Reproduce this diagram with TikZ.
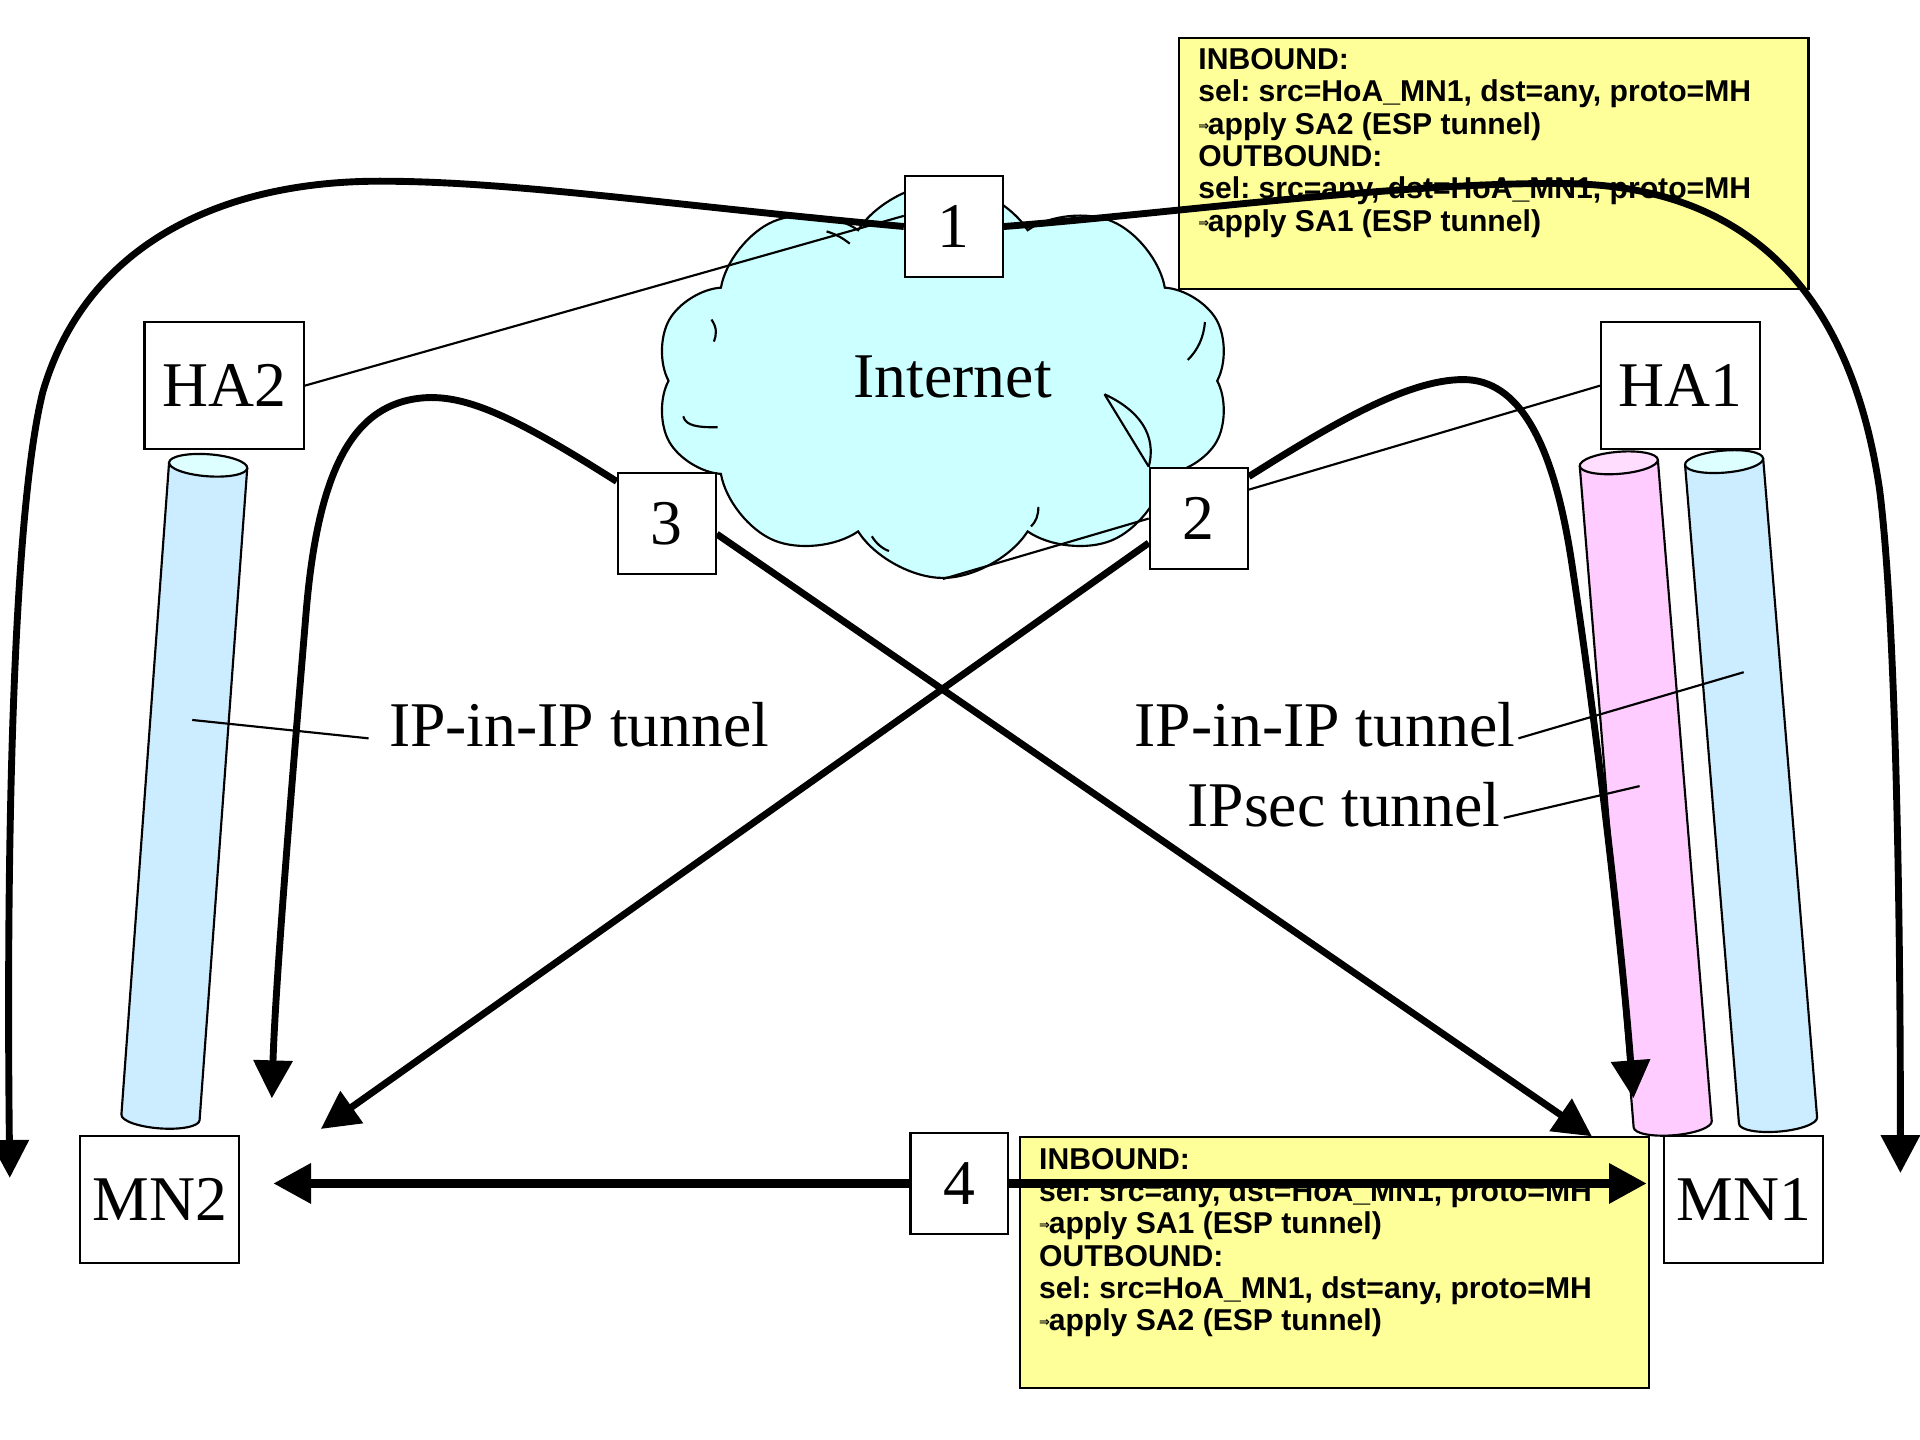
\documentclass[tikz,border=0pt]{standalone}
\usepackage{fontspec}
\setmainfont{Liberation Serif}
\newfontfamily\notefont{Liberation Sans}
\newfontfamily\symbolfont{DejaVu Sans}
\usetikzlibrary{shapes.symbols,arrows.meta,positioning,calc}
\frenchspacing

\definecolor{cloudcyan}{RGB}{204,255,255}
\definecolor{notepaper}{RGB}{255,255,153}
\definecolor{tubeblue}{RGB}{204,236,255}
\definecolor{tubeblueend}{RGB}{221,255,255}
\definecolor{tubepink}{RGB}{255,204,255}
\definecolor{tubepinkend}{RGB}{255,221,255}

\newcommand{\applyarrow}{\raisebox{0.9pt}{\symbolfont\fontsize{3}{3}\selectfont ⇒}\kern-0.3pt}

\tikzset{box style/.style={
		draw=black,
		line width=0.5pt,
		fill=white,
		rectangle,
		inner sep=0pt,
		font=\fontsize{14.8}{17}\selectfont,
	},
	number style/.style={
		box style,
		minimum width=0.8cm,
		minimum height=0.83cm,
	},
	host style/.style={
		box style,
		minimum width=1.3cm,
		minimum height=1.04cm,
	},
	cloud style/.style={
		cloud,
		draw=black,
		line width=0.5pt,
		fill=cloudcyan,
		cloud puffs=10,
		cloud puff arc=115,
		cloud ignores aspect,
		minimum width=4.7cm,
		minimum height=3.22cm,
		inner sep=0pt,
	},
	note style/.style={
		draw=black,
		line width=0.5pt,
		fill=notepaper,
		rectangle,
		minimum width=5.14cm,
		minimum height=2.05cm,
		inner sep=0pt,
	},
	note text style/.style={
		inner sep=0pt,
		align=left,
		font=\notefont\bfseries\fontsize{7}{7.5}\selectfont,
	},
	label style/.style={
		inner sep=0pt,
		inner xsep=0.02cm,
		text height=0.36cm,
		text depth=0.22cm,
		font=\fontsize{14.8}{17}\selectfont,
	},
	leader style/.style={
		line width=0.5pt,
	},
	flow style/.style={
		line width=1.6pt,
		-{Triangle[length=0.31cm,width=0.31cm]},
	}
}

\newcommand{\drawtunnel}[5]{%
	\begin{scope}[shift={#1}, rotate=#2]
		\fill[#4] (-0.32,0) -- (-0.32,-#3) arc[start angle=180, end angle=360, x radius=0.32cm, y radius=0.09cm] -- (0.32,0) -- cycle;
		\draw[leader style] (-0.32,0) -- (-0.32,-#3) arc[start angle=180, end angle=360, x radius=0.32cm, y radius=0.09cm] -- (0.32,0);
		\draw[leader style, fill=#5] (0,0) ellipse [x radius=0.32cm, y radius=0.09cm];
	\end{scope}}

\begin{document}
\begin{tikzpicture}
	\useasboundingbox (0,0) rectangle (15.68,11.76);

	% the Internet
	\node[cloud style] (internet) at (7.70,8.65) {};
	\node[label style, inner xsep=0pt] (internettext) at (7.78,8.58) {Internet};
	\draw[leader style] (9.84,9.13) .. controls (9.83,9.00) and (9.78,8.90) .. (9.70,8.82);
	\draw[leader style] (5.81,9.15) .. controls (5.86,9.08) and (5.85,9.02) .. (5.83,8.97);
	\draw[leader style] (5.58,8.36) .. controls (5.60,8.28) and (5.70,8.27) .. (5.86,8.27);
	\draw[leader style] (7.12,7.38) .. controls (7.15,7.33) and (7.20,7.28) .. (7.26,7.26);
	\draw[leader style] (8.48,7.62) .. controls (8.48,7.55) and (8.46,7.50) .. (8.42,7.46);
	\draw[leader style] (6.75,9.87) .. controls (6.85,9.84) and (6.90,9.80) .. (6.94,9.77);

	% boxes
	\node[number style] (n1) at (7.79,9.91) {1};
	\node[number style] (n2) at (9.79,7.525) {2};
	\node[number style] (n3) at (5.445,7.485) {3};
	\node[number style] (n4) at (7.835,2.095) {4};
	\node[host style] (HA2) at (1.83,8.61) {HA2};
	\node[host style, right of=HA2, node distance=11.895cm] (HA1) {HA1};
	\node[host style] (MN2) at (1.305,1.965) {MN2};
	\node[host style, right of=MN2, node distance=12.935cm] (MN1) {MN1};

	% policies
	\node[note style, anchor=north west] (policyHA) at (9.62,11.46) {};
	\node[note text style, below right=0.09cm and 0.16cm of policyHA.north west] (policyHAtext)
	{INBOUND:\\
	sel: src=HoA\_MN1, dst=any, proto=MH\\
	\applyarrow apply SA2 (ESP tunnel)\\
	OUTBOUND:\\
	sel: src=any, dst=HoA\_MN1, proto=MH\\
	\applyarrow apply SA1 (ESP tunnel)};
	\node[note style, anchor=north west] (policyMN) at (8.32,2.48) {};
	\node[note text style, below right=0.09cm and 0.16cm of policyMN.north west] (policyMNtext)
	{INBOUND:\\
	sel: src=any, dst=HoA\_MN1, proto=MH\\
	\applyarrow apply SA1 (ESP tunnel)\\
	OUTBOUND:\\
	sel: src=HoA\_MN1, dst=any, proto=MH\\
	\applyarrow apply SA2 (ESP tunnel)};

	% thin links
	\coordinate (cloudtip) at (9.02,8.54);
	\draw[leader style] (HA2.east) -- (n1.168);
	\draw[leader style] (HA1.west) -- (n2.30);
	\draw[leader style] (n2.west) -- (internet.south);
	\draw[leader style] (n2.north west) -- (cloudtip);
	\draw[leader style] (cloudtip) .. controls (9.30,8.41) and (9.45,8.21) .. (n2.north west);

	% tunnels
	\drawtunnel{(1.70,7.96)}{-4.18}{5.34}{tubeblue}{tubeblueend}
	\drawtunnel{(13.22,7.98)}{4.66}{5.42}{tubepink}{tubepinkend}
	\drawtunnel{(14.08,7.99)}{4.68}{5.40}{tubeblue}{tubeblueend}

	\coordinate (tubeL) at (1.57,5.88);
	\coordinate (tubeR) at (14.24,6.27);
	\coordinate (tubeP) at (13.39,5.34);
	\node[label style, inner xsep=0.16cm, anchor=base west] (tunnelL) at (3.01,5.66) {IP-in-IP tunnel};
	\node[label style, anchor=base west] (tunnelR) at (9.24,5.66) {IP-in-IP tunnel};
	\node[label style, anchor=base west] (ipsec) at (9.67,5.01) {IPsec tunnel};
	\draw[leader style] (tunnelL.west) -- (tubeL);
	\draw[leader style] (tunnelR.east) -- (tubeR);
	\draw[leader style] (ipsec.east) -- (tubeP);

	% message flows
	\coordinate (tipA) at (0.08,2.14);
	\coordinate (tipB) at (15.52,2.18);
	\coordinate (tipC) at (2.22,2.79);
	\coordinate (tipD) at (13.34,2.79);
	\coordinate (tipE) at (13.00,2.48);
	\coordinate (tipF) at (2.62,2.54);
	\coordinate (tip4L) at (2.23,2.095);
	\coordinate (tip4R) at (13.45,2.095);

	\draw[flow style] (n1.west) .. controls (5.50,10.08) and (4.20,10.28) .. (3.10,10.28)
		.. controls (1.80,10.28) and (0.70,9.76) .. (0.35,8.56)
		.. controls (0.10,7.56) and (0.05,4.76) .. (tipA);
	\draw[flow style] (n1.east) .. controls (9.50,10.01) and (11.50,10.28) .. (12.80,10.26)
		.. controls (14.20,10.24) and (15.10,9.46) .. (15.35,7.76)
		.. controls (15.50,6.56) and (15.52,3.76) .. (tipB);
	\draw[flow style] (n3.140) .. controls (4.20,8.36) and (3.80,8.54) .. (3.45,8.51)
		.. controls (2.90,8.46) and (2.60,7.96) .. (2.50,6.76)
		.. controls (2.40,5.56) and (2.25,3.76) .. (tipC);
	\draw[flow style] (n2.40) .. controls (10.90,8.31) and (11.50,8.66) .. (11.95,8.66)
		.. controls (12.40,8.66) and (12.68,8.16) .. (12.83,7.20)
		.. controls (13.05,5.76) and (13.25,3.96) .. (tipD);
	\draw[flow style] (n3.-12) -- (tipE);
	\draw[flow style] (n2.206) -- (tipF);
	\draw[flow style, line width=2.2pt] (n4.west) -- (tip4L);
	\draw[flow style, line width=2.2pt] (n4.east) -- (tip4R);
\end{tikzpicture}
\end{document}
